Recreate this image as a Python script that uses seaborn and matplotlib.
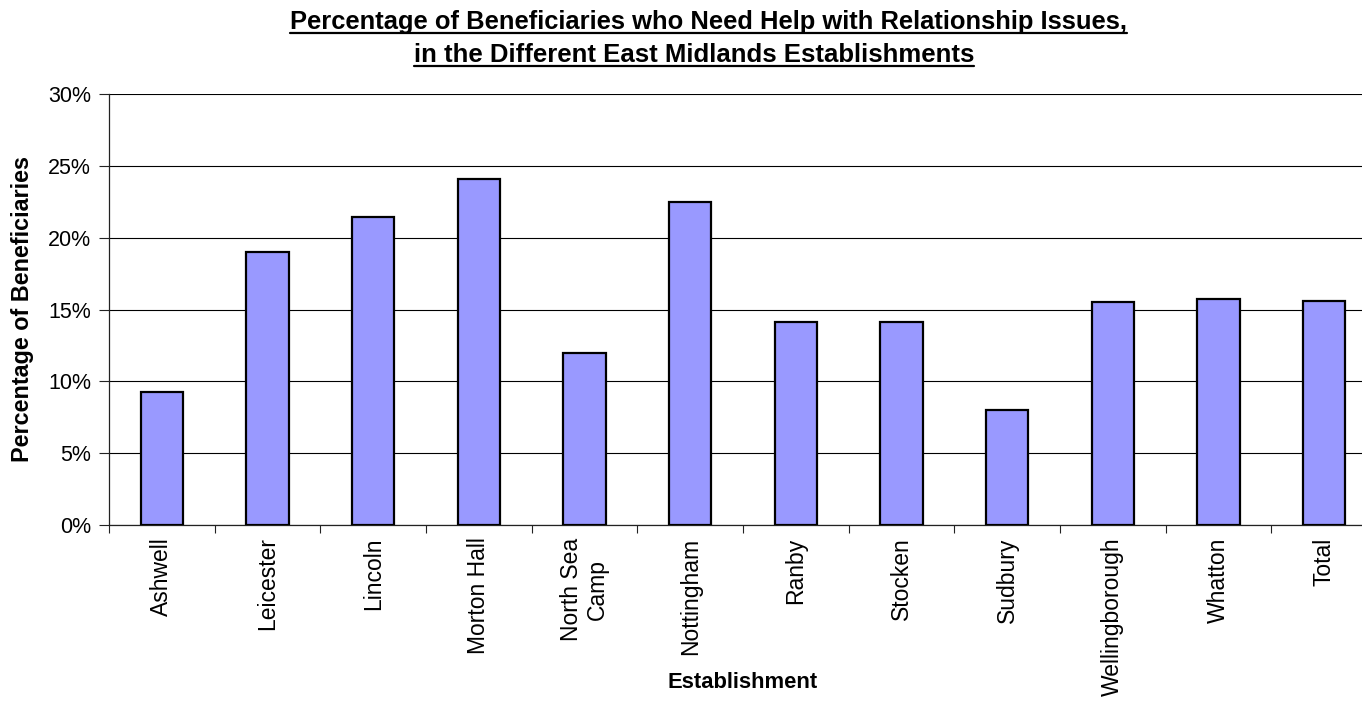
import matplotlib
matplotlib.use('Agg')
import matplotlib.pyplot as plt
import seaborn as sns
import pandas as pd
from matplotlib.lines import Line2D
from matplotlib.ticker import FixedLocator, FuncFormatter

establishments = ["Ashwell", "Leicester", "Lincoln", "Morton Hall", "North Sea\nCamp",
                  "Nottingham", "Ranby", "Stocken", "Sudbury", "Wellingborough",
                  "Whatton", "Total"]
percentages = [9.26, 19.0, 21.44, 24.08, 11.97, 22.46, 14.1, 14.15, 7.98, 15.52, 15.75, 15.59]
y_ticks = [0, 5, 10, 15, 20, 25, 30]
title_lines = ["Percentage of Beneficiaries who Need Help with Relationship Issues,",
               "in the Different East Midlands Establishments"]
x_title = "Establishment"
y_title = "Percentage of Beneficiaries"

sns.set_theme(style="white")
plt.rcParams['font.family'] = ['Liberation Sans', 'DejaVu Sans']

W, H = 1362, 701
fig = plt.figure(figsize=(W / 100, H / 100), dpi=100)
fig.patch.set_facecolor("white")
ax = fig.add_axes([109 / W, 1 - 525 / H, 1268 / W, 431 / H])

df = pd.DataFrame({"Establishment": establishments, "Percentage": percentages})
sns.barplot(data=df, x="Establishment", y="Percentage", color="#9999FF", saturation=1,
            width=0.4, edgecolor="black", linewidth=1.6, ax=ax, zorder=3)

ax.set_xlim(-0.5, len(establishments) - 0.5)
ax.set_ylim(0, 30)
ax.set_yticks(y_ticks)
ax.yaxis.set_major_formatter(FuncFormatter(lambda v, p: f"{v:.0f}%"))
ax.grid(axis="y", color="black", linewidth=0.8)
ax.grid(axis="x", visible=False)
ax.set_axisbelow(True)

for s in ["top", "right"]:
    ax.spines[s].set_visible(False)
for s in ["left", "bottom"]:
    ax.spines[s].set_color("#222222")
    ax.spines[s].set_linewidth(0.9)

ax.tick_params(axis="y", which="major", left=True, length=7, width=0.8, color="#222222",
               direction="out", pad=6, labelsize=15.5, labelcolor="black")
ax.tick_params(axis="x", which="major", bottom=True, length=0, pad=9, labelsize=16.5,
               labelrotation=90, labelcolor="black")
ax.xaxis.set_minor_locator(FixedLocator([i - 0.5 for i in range(len(establishments) + 1)]))
ax.tick_params(axis="x", which="minor", bottom=True, length=6, width=0.8, color="#222222",
               direction="out")

ax.set_xlabel(x_title, fontsize=15.8, fontweight="bold", color="black")
ax.xaxis.set_label_coords(0.5, -(672 - 525) / 431)
ax.set_ylabel(y_title, fontsize=16.8, fontweight="bold", color="black")
ax.yaxis.set_label_coords(-(109 - 34) / 1268, 0.5)

t1 = fig.text(708 / W, 1 - 29 / H, title_lines[0], ha="center", va="baseline",
              fontsize=18.4, fontweight="bold", color="black")
t2 = fig.text(694 / W, 1 - 62 / H, title_lines[1], ha="center", va="baseline",
              fontsize=18.5, fontweight="bold", color="black")

fig.canvas.draw()
r = fig.canvas.get_renderer()
for t, base in [(t1, 29), (t2, 62)]:
    bb = t.get_window_extent(renderer=r)
    yl = 1 - (base + 4) / H
    fig.add_artist(Line2D([bb.x0 / W, bb.x1 / W], [yl, yl], transform=fig.transFigure,
                          color="black", linewidth=1.6))

fig.savefig("out.png", dpi=100)
